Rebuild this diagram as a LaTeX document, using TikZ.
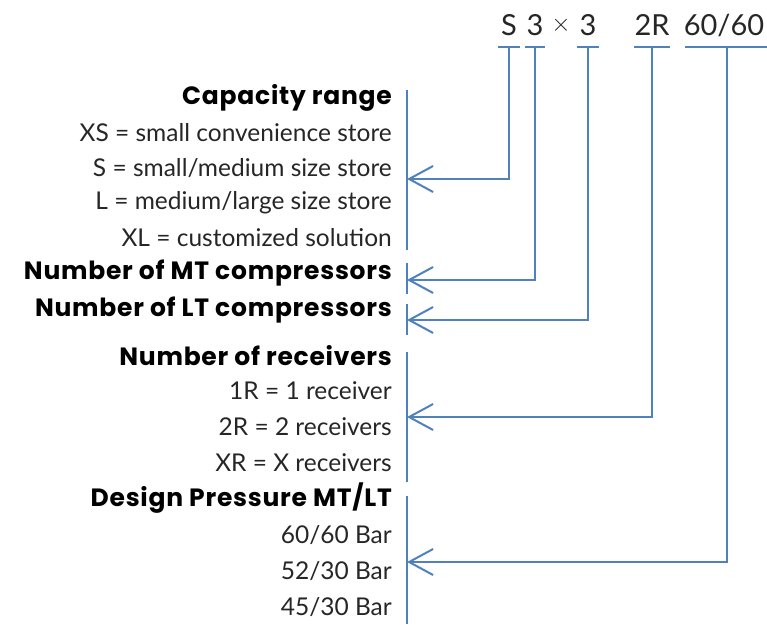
\documentclass[tikz,border=0pt]{standalone}
\usepackage{fontspec}
\setmainfont{Lato}
\newfontfamily\headfont[LetterSpace=3]{Poppins}
\usepackage{xcolor}
\usepackage{tikz}
\usetikzlibrary{arrows.meta, positioning, calc}
\definecolor{linkblue}{RGB}{79,129,189}
\definecolor{bodygray}{RGB}{38,38,38}

\begin{document}
\begin{tikzpicture}[x=1pt, y=-1pt,
    code/.style={font=\fontsize{29}{34}\selectfont, text=bodygray, inner sep=0pt},
    head/.style={anchor=east, font=\headfont\fontsize{25}{28}\selectfont\bfseries, inner sep=0pt},
    item/.style={anchor=east, font=\fontsize{24.5}{28}\selectfont, text=bodygray, inner sep=0pt},
    bar/.style={draw=linkblue, line width=2.2pt},
    link/.style={draw=linkblue, line width=2.2pt, -{Straight Barb[length=24pt, width=26pt, line width=2pt]}}]
    \useasboundingbox (0,0) rectangle (767,624);

    % model code
    \node[code] (cS) at (509,25) {S};
    \node[code] (cMT) at (535,25) {3};
    \node[code] (cX) at (561,25) {$\times$};
    \node[code] (cLT) at (588,25) {3};
    \node[code] (cR) at (652,25) {2R};
    \node[code] (cP) at (724,25) {60/60};

    \coordinate (tS) at (509,47);
    \coordinate (tMT) at (535,47);
    \coordinate (tLT) at (588,47);
    \coordinate (tR) at (652,47);
    \coordinate (tP) at (727,47);
    \draw[bar] ([xshift=-11pt]tS) -- ([xshift=11pt]tS);
    \draw[bar] ([xshift=-10pt]tMT) -- ([xshift=10pt]tMT);
    \draw[bar] ([xshift=-11pt]tLT) -- ([xshift=11pt]tLT);
    \draw[bar] ([xshift=-18pt]tR) -- ([xshift=18pt]tR);
    \draw[bar] ([xshift=-42pt]tP) -- ([xshift=40pt]tP);

    % descriptions
    \node[head] (capacity) at (392,98) {Capacity range};
    \node[item] (xs) at (392,133) {XS = small convenience store};
    \node[item] (s) at (392,168) {S = small/medium size store};
    \node[item] (l) at (392,203) {L = medium/large size store};
    \node[item] (xl) at (392,238) {XL = customized solution};
    \node[head] (mt) at (392,273) {Number of MT compressors};
    \node[head] (lt) at (392,310) {Number of LT compressors};
    \node[head] (receivers) at (392,356) {Number of receivers};
    \node[item] (r1) at (392,391) {1R = 1 receiver};
    \node[item] (r2) at (392,427) {2R = 2 receivers};
    \node[item] (rx) at (392,463) {XR = X receivers};
    \node[head] (pressure) at (392,498) {Design Pressure MT/LT};
    \node[item] (p60) at (392,535) {60/60 Bar};
    \node[item] (p52) at (392,571) {52/30 Bar};
    \node[item] (p45) at (392,607) {45/30 Bar};

    % brackets
    \draw[bar] (407,90) -- (407,250);
    \draw[bar] (407,263) -- (407,294);
    \draw[bar] (407,304) -- (407,335);
    \draw[bar] (407,352) -- (407,482);
    \draw[bar] (407,496) -- (407,624);

    \coordinate (aS) at (407,179);
    \coordinate (aMT) at (407,280);
    \coordinate (aLT) at (407,320);
    \coordinate (aR) at (407,417);
    \coordinate (aP) at (407,562);

    \draw[link] (tS) |- (aS);
    \draw[link] (tMT) |- (aMT);
    \draw[link] (tLT) |- (aLT);
    \draw[link] (tR) |- (aR);
    \draw[link] (tP) |- (aP);
\end{tikzpicture}
\end{document}
